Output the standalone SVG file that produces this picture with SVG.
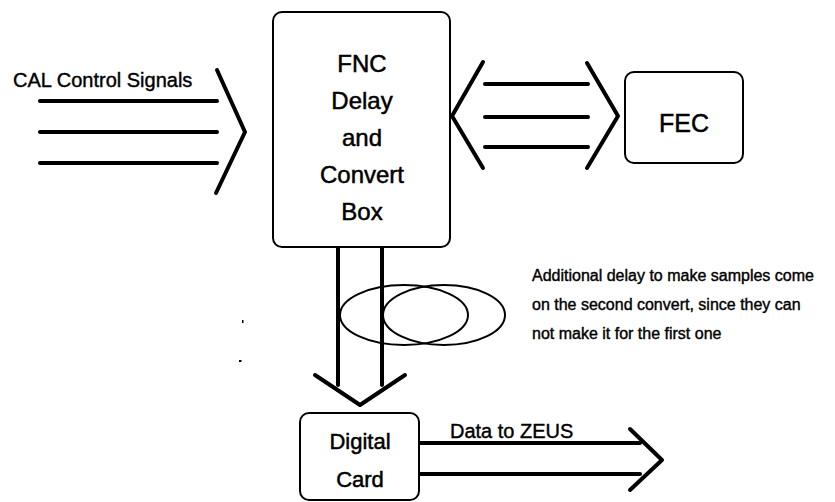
<svg xmlns="http://www.w3.org/2000/svg" width="835" height="502" viewBox="0 0 835 502">
<style>
.box{fill:#fff;stroke:#000;stroke-width:2}
.t{font-family:"Liberation Sans",Arial,Helvetica,sans-serif;fill:#000;stroke:#000;stroke-width:0.5;text-anchor:middle}
.l{font-family:"Liberation Sans",Arial,Helvetica,sans-serif;fill:#000;stroke:#000;stroke-width:0.4}
.w{fill:none;stroke:#000;stroke-width:4;stroke-linecap:round;stroke-linejoin:round}
.e{fill:none;stroke:#000;stroke-width:2}
</style>
<rect width="835" height="502" fill="#fff"/>
<g id="connectors">
  <g id="cal-bus">
    <line class="w" x1="40" y1="101" x2="217" y2="101"/>
    <line class="w" x1="40" y1="132" x2="217" y2="132"/>
    <line class="w" x1="40" y1="163" x2="217" y2="163"/>
    <polyline class="w" points="217,70 245,132 216,193"/>
  </g>
  <g id="fec-bus">
    <line class="w" x1="485" y1="84" x2="588" y2="84"/>
    <line class="w" x1="485" y1="117" x2="588" y2="117"/>
    <line class="w" x1="485" y1="147" x2="588" y2="147"/>
    <polyline class="w" points="483,62 452,116 483,168"/>
    <polyline class="w" points="587,63 618,116 587,168"/>
  </g>
  <g id="down-bus">
    <line class="w" x1="338" y1="248" x2="338" y2="385"/>
    <line class="w" x1="382" y1="248" x2="382" y2="385"/>
    <polyline class="w" points="315,375 360,405 405,375"/>
  </g>
  <g id="zeus-bus">
    <line class="w" x1="419" y1="443" x2="640" y2="443"/>
    <line class="w" x1="419" y1="474" x2="640" y2="474"/>
    <polyline class="w" points="630,429 662,460 630,490"/>
  </g>
  <g id="delay-loops">
    <ellipse class="e" cx="404" cy="315" rx="64" ry="30"/>
    <ellipse class="e" cx="444" cy="315" rx="61" ry="30"/>
  </g>
</g>
<g id="fnc">
  <rect class="box" x="273" y="12" width="177" height="235" rx="9"/>
  <text class="t" x="362" y="72" font-size="24">FNC</text>
  <text class="t" x="362" y="109" font-size="24">Delay</text>
  <text class="t" x="362" y="146" font-size="24">and</text>
  <text class="t" x="362" y="183" font-size="24">Convert</text>
  <text class="t" x="362" y="220" font-size="24">Box</text>
</g>
<g id="fec">
  <rect class="box" x="625" y="72" width="118" height="91" rx="9"/>
  <text class="t" x="684" y="132" font-size="25">FEC</text>
</g>
<g id="digital">
  <rect class="box" x="300" y="413" width="119" height="87" rx="9"/>
  <text class="t" x="360" y="449" font-size="22">Digital</text>
  <text class="t" x="360" y="487" font-size="22">Card</text>
</g>
<g id="labels">
  <text class="l" x="13" y="87" font-size="20">CAL Control Signals</text>
  <text class="l" x="450" y="438" font-size="20">Data to ZEUS</text>
  <text class="l" x="532" y="281" font-size="16">Additional delay to make samples come</text>
  <text class="l" x="532" y="310" font-size="16">on the second convert, since they can</text>
  <text class="l" x="532" y="339" font-size="16">not make it for the first one</text>
</g>
<g id="specks">
  <rect x="242" y="320" width="1.5" height="3" fill="#000"/>
  <rect x="239" y="360" width="2.5" height="2" fill="#000"/>
</g>
</svg>
